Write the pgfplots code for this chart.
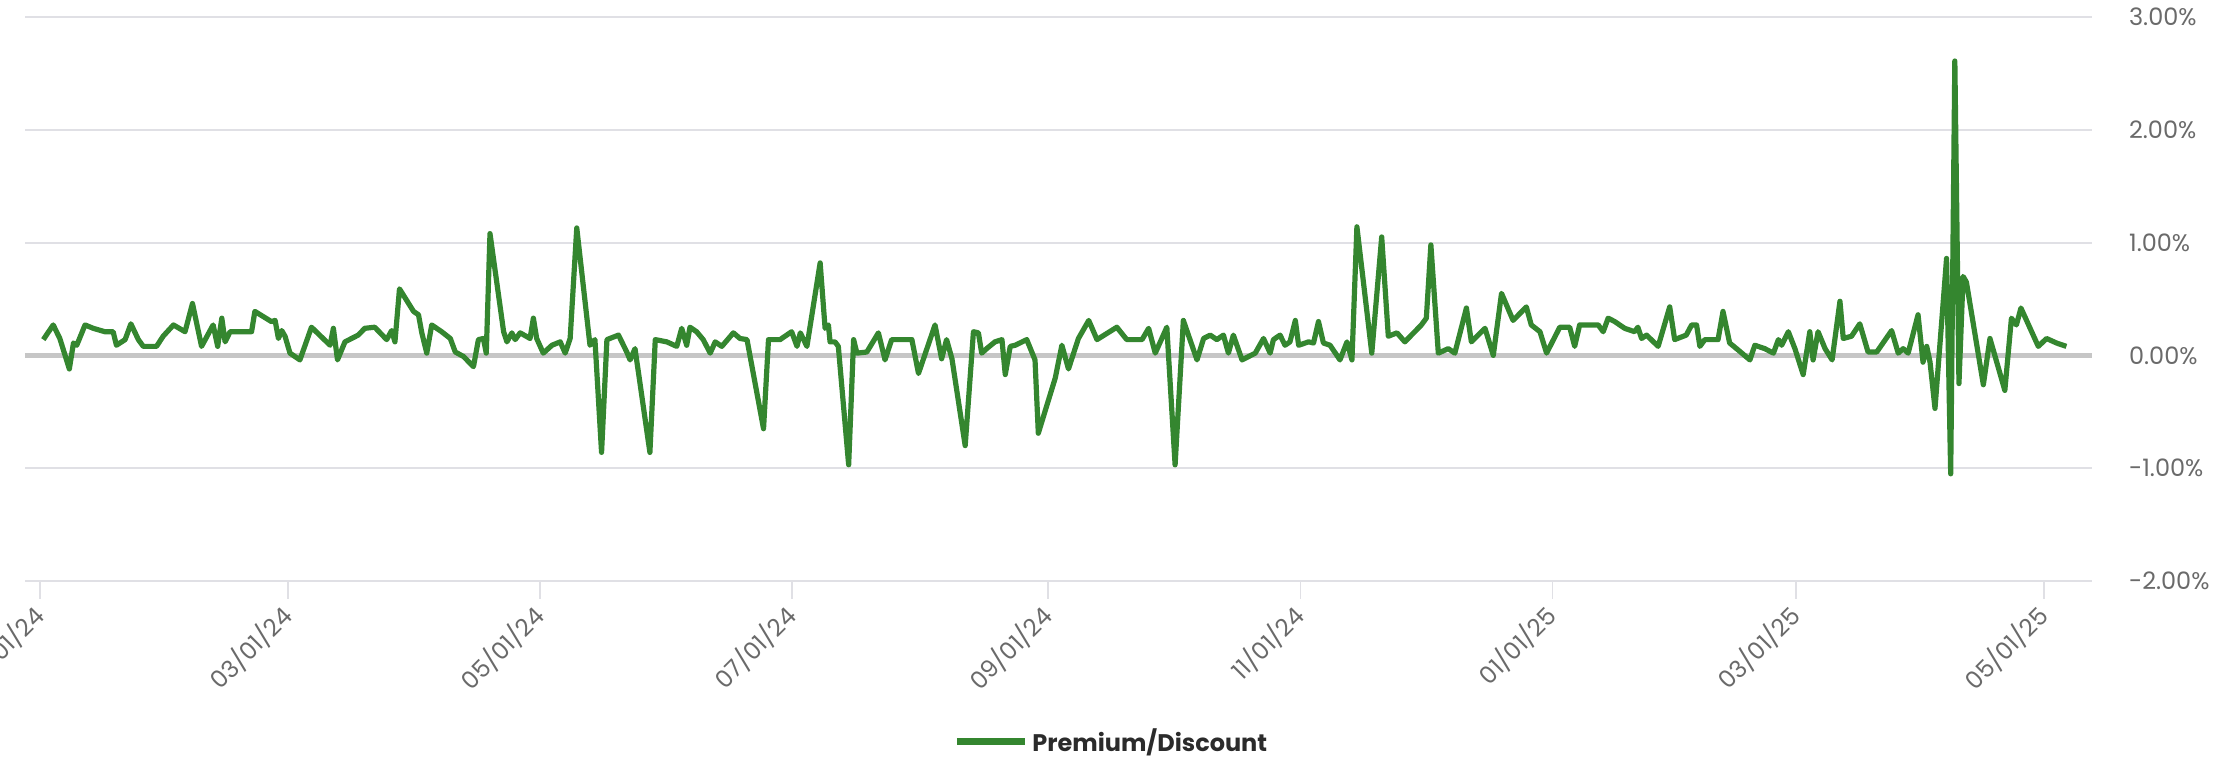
\documentclass[border=0pt]{standalone}
\usepackage{fontspec}
\setmainfont{Poppins}
\usepackage{pgfplots}
\usepackage{pgfplotstable}
\pgfplotsset{compat=1.18}
\definecolor{pdgreen}{HTML}{34862F}
\definecolor{gridc}{HTML}{E0E0E5}
\definecolor{zeroc}{HTML}{C6C6C6}
\definecolor{tickc}{HTML}{6A6A6A}
\definecolor{legc}{HTML}{2B2B2B}

\pgfplotstableread{
day val
0.8 0.14
3.2 0.27
4.8 0.15
7.1 -0.12
8.1 0.11
8.9 0.09
10.9 0.27
12.9 0.24
15.7 0.21
17.7 0.21
18.5 0.09
20.6 0.14
22.0 0.28
23.8 0.14
25.0 0.08
28.2 0.08
29.8 0.17
32.3 0.27
35.1 0.21
36.9 0.46
39.1 0.08
41.9 0.27
43.0 0.08
44.0 0.33
44.8 0.12
46.0 0.21
51.2 0.21
52.0 0.39
56.0 0.30
56.9 0.31
57.7 0.15
58.5 0.22
59.3 0.17
60.5 0.02
62.9 -0.04
65.7 0.25
70.2 0.09
71.0 0.24
72.0 -0.04
73.8 0.12
77.0 0.18
78.6 0.24
81.0 0.25
83.9 0.14
85.1 0.22
85.9 0.12
87.0 0.59
90.4 0.39
91.6 0.36
92.4 0.20
93.6 0.02
94.8 0.27
97.2 0.21
99.3 0.15
100.5 0.03
102.5 -0.01
104.9 -0.10
106.1 0.14
107.3 0.15
108.0 0.02
108.9 1.08
112.2 0.21
113.0 0.12
114.2 0.20
115.0 0.14
116.2 0.20
118.6 0.15
119.4 0.33
120.2 0.15
121.8 0.02
123.9 0.09
125.9 0.12
127.1 0.02
128.3 0.15
129.9 1.13
133.1 0.09
134.3 0.14
135.9 -0.86
137.2 0.14
140.0 0.18
142.0 0.03
142.8 -0.04
144.0 0.06
147.6 -0.86
148.9 0.14
151.7 0.12
154.1 0.08
155.3 0.24
156.5 0.09
157.3 0.25
158.9 0.21
160.5 0.14
162.2 0.02
163.4 0.12
165.0 0.08
167.8 0.20
169.4 0.15
171.1 0.14
175.1 -0.65
176.3 0.14
179.1 0.14
181.9 0.21
183.2 0.08
184.0 0.20
185.6 0.08
188.8 0.82
190.0 0.24
190.8 0.27
191.2 0.12
192.4 0.12
193.2 0.08
195.7 -0.97
196.9 0.14
197.7 0.02
200.1 0.03
202.9 0.20
204.5 -0.04
206.1 0.14
211.0 0.14
212.6 -0.16
216.6 0.27
218.2 -0.03
219.4 0.14
220.7 -0.03
223.9 -0.80
225.9 0.21
227.1 0.20
227.9 0.02
229.1 0.06
231.1 0.12
232.8 0.14
233.6 -0.17
234.8 0.08
236.0 0.09
238.8 0.14
240.8 -0.04
241.6 -0.69
245.7 -0.20
247.3 0.09
248.9 -0.12
251.3 0.15
253.8 0.31
255.8 0.14
260.6 0.25
263.0 0.14
266.7 0.14
268.3 0.24
269.9 0.02
272.7 0.25
274.7 -0.97
276.7 0.31
280.0 -0.04
281.6 0.15
283.2 0.18
284.8 0.14
286.4 0.18
287.6 0.02
288.8 0.18
290.9 -0.04
294.1 0.02
296.1 0.15
297.7 0.02
298.5 0.14
300.1 0.18
301.3 0.09
302.5 0.12
303.8 0.31
304.6 0.09
307.0 0.12
308.2 0.11
309.4 0.30
310.6 0.11
312.2 0.09
314.6 -0.04
316.3 0.12
317.5 -0.04
318.7 1.14
322.3 0.02
324.7 1.05
326.3 0.17
328.4 0.20
330.3 0.12
334.3 0.27
335.5 0.33
336.6 0.98
338.4 0.02
340.8 0.06
342.4 0.02
345.2 0.42
346.4 0.12
349.7 0.24
351.7 0.00
353.7 0.55
356.5 0.31
359.7 0.43
360.9 0.27
363.0 0.21
364.6 0.02
367.8 0.25
370.2 0.25
371.4 0.08
372.6 0.27
377.1 0.27
378.3 0.21
379.5 0.33
381.1 0.30
383.5 0.24
385.9 0.21
386.7 0.25
387.6 0.15
388.8 0.18
391.6 0.08
394.4 0.43
395.6 0.14
398.4 0.18
399.7 0.27
400.9 0.27
401.7 0.08
402.9 0.14
406.1 0.14
407.3 0.39
408.9 0.11
410.9 0.05
413.8 -0.04
415.0 0.09
417.4 0.06
419.5 0.02
420.7 0.14
421.5 0.09
423.1 0.21
424.7 0.06
426.7 -0.17
428.3 0.21
429.1 -0.04
430.3 0.21
432.0 0.06
433.7 -0.04
435.6 0.48
436.4 0.15
438.4 0.17
440.4 0.28
442.4 0.03
444.5 0.03
448.1 0.22
449.7 0.02
450.9 0.06
452.1 0.02
454.5 0.36
455.7 -0.06
456.6 0.08
457.4 -0.06
458.6 -0.47
461.4 0.86
462.4 -1.05
463.4 2.61
464.4 -0.25
465.4 0.70
466.2 0.65
470.3 -0.26
471.9 0.15
475.5 -0.31
477.1 0.33
478.3 0.27
479.4 0.42
483.6 0.08
485.6 0.15
488.0 0.11
490.4 0.08
}\pdtable

\begin{document}
\begin{tikzpicture}
\useasboundingbox (0,0) rectangle (1112.5pt,378pt);
\begin{axis}[
  at={(12.5pt,87.5pt)}, anchor=south west,
  width=1033.5pt, height=282pt, scale only axis,
  xmin=-3.63, xmax=496.6, ymin=-2, ymax=3,
  axis line style={draw=none},
  ytick={-2,-1,0,1,2,3},
  yticklabels={-2.00\%,-1.00\%,0.00\%,1.00\%,2.00\%,3.00\%},
  yticklabel pos=right,
  ymajorgrids, grid style={gridc, line width=1pt},
  ytick style={draw=none},
  yticklabel style={font=\fontsize{12}{14}\selectfont, text=tickc, anchor=west, xshift=6pt},
  xtick={0,60,121,182,244,305,366,425,485},
  xticklabels={01/01/24,03/01/24,05/01/24,07/01/24,09/01/24,11/01/24,01/01/25,03/01/25,05/01/25},
  xtick pos=bottom, tick align=outside, major tick length=9pt,
  xtick style={gridc, line width=0.8pt},
  xticklabel style={font=\fontsize{12}{14}\selectfont, text=tickc, rotate=45, anchor=east, xshift=-1pt, yshift=-4pt},
  extra y ticks={0}, extra y tick labels={},
  extra y tick style={major tick length=0pt, grid style={zeroc, line width=2.2pt}},
  legend style={at={(0.526,-0.284)}, anchor=center, draw=none, fill=none,
    font=\bfseries\fontsize{12}{14}\selectfont, text=legc},
  legend image code/.code={\draw[pdgreen, line width=3.5pt] (0pt,0pt) -- (34pt,0pt);},
]
\addplot[pdgreen, line width=2.6pt, line join=round, mark=none] table[x=day, y=val] {\pdtable};
\addlegendentry{Premium/Discount}
\end{axis}
\end{tikzpicture}
\end{document}
